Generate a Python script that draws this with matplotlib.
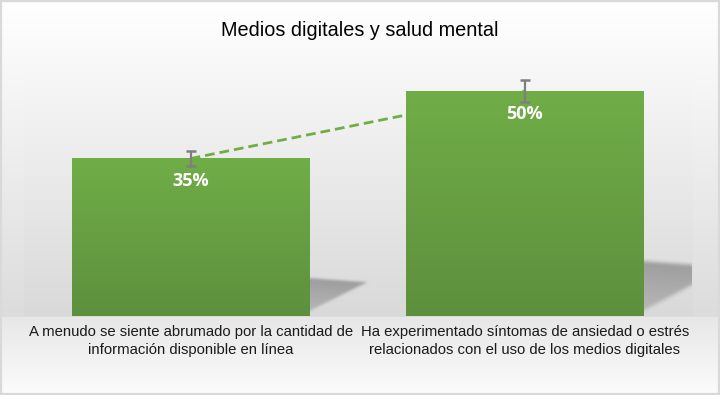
import numpy as np
import matplotlib.pyplot as plt
from matplotlib import font_manager
from matplotlib.patches import Rectangle
from matplotlib.path import Path

title = 'Medios digitales y salud mental'
categories = ['A menudo se siente abrumado por la cantidad de\ninformación disponible en línea',
              'Ha experimentado síntomas de ansiedad o estrés\nrelacionados con el uso de los medios digitales']
values = [35, 50]
value_labels = ['35%', '50%']
err_frac = 0.05  # error bars at 5% of value

W, H = 720, 395
fig = plt.figure(figsize=(W / 100, H / 100), dpi=100)

# chart area background (soft vertical gradient)
bg = fig.add_axes([0, 0, 1, 1], zorder=-10)
bg.axis('off')
yy = np.arange(H)
shade = np.interp(yy, [0, 46, 316, 317, 395], [255, 250, 220, 231, 252]) / 255
bg.imshow(np.dstack([np.repeat(shade[:, None], 2, axis=1)] * 3), aspect='auto', extent=[0, 1, 0, 1])
bg.add_patch(Rectangle((0.001, 0.002), 0.997, 0.995, transform=bg.transAxes,
                       fill=False, ec='#d9d9d9', lw=1.6))
bg.set_xlim(0, 1)
bg.set_ylim(0, 1)

# plot area
ax = fig.add_axes([23.5 / W, 79 / H, 668.5 / W, 270 / H])
ax.patch.set_visible(False)
pa = np.interp(np.arange(270), [0, 269], [250, 217]) / 255
ax.imshow(np.dstack([np.repeat(pa[:, None], 2, axis=1)] * 3), aspect='auto',
          extent=[0, 1, 0, 1], transform=ax.transAxes, zorder=0)

x = np.arange(len(values))
width = 0.71
bars = ax.bar(x, values, width=width, color='#68a344', zorder=3)

# green gradient on bars
top_c = np.array([112, 173, 71]) / 255
bot_c = np.array([93, 144, 61]) / 255
t = np.linspace(0, 1, 100)[:, None]
grad = top_c * (1 - t) + bot_c * t
for b in bars:
    x0, w, h = b.get_x(), b.get_width(), b.get_height()
    ax.imshow(grad[:, None, :].repeat(2, axis=1), aspect='auto',
              extent=[x0, x0 + w, 0, h], zorder=3.1)


def blur(a, n):
    k = np.ones(n) / n
    a = np.apply_along_axis(lambda r: np.convolve(r, k, mode='same'), 0, a)
    a = np.apply_along_axis(lambda r: np.convolve(r, k, mode='same'), 1, a)
    return a


# soft cast shadows right of the bars, scaled by bar height
for b in bars:
    xr, h = b.get_x() + b.get_width(), b.get_height()
    reach = 0.0049 * h
    poly = [(xr - 0.03, 0.245 * h), (xr + reach, 0.215 * h), (xr - 0.03, 0.0)]
    gx = np.linspace(xr - 0.04, xr + reach + 0.05, 130)
    gy = np.linspace(0, 0.33 * h, 110)
    X, Y = np.meshgrid(gx, gy)
    inside = Path(poly).contains_points(np.c_[X.ravel(), Y.ravel()]).reshape(X.shape)
    ytop = np.interp(X, [xr - 0.03, xr + reach], [0.245 * h, 0.215 * h])
    wgt = 1 - 0.5 * np.clip((ytop - Y) / (0.245 * h), 0, 1)
    a = blur(blur(inside * wgt, 7), 5) * 0.6
    rgba = np.zeros(X.shape + (4,))
    rgba[..., :3] = 0.45
    rgba[..., 3] = a
    ax.imshow(rgba, origin='lower', aspect='auto',
              extent=[gx[0], gx[-1], gy[0], gy[-1]], zorder=2)

# linear trendline
coef = np.polyfit(x, values, 1)
ax.plot(x, np.polyval(coef, x), color='#70ad47', lw=2, dashes=(3.5, 1.8), zorder=2.5)

# error bars
ax.errorbar(x, values, yerr=np.array(values) * err_frac, fmt='none', ecolor='#7f7f7f',
            elinewidth=1.6, capsize=3.6, capthick=1.8, zorder=5)

for xi, v, lbl in zip(x, values, value_labels):
    ax.annotate(lbl, (xi, v), xytext=(0, -16.5), textcoords='offset points', ha='center',
                va='center', color='white', fontsize=13, fontweight='bold',
                family=['Open Sans', 'DejaVu Sans'], zorder=6)

names = {f.name for f in font_manager.fontManager.ttflist}
if 'Liberation Sans Narrow' in names:
    tick_font, tick_size = 'Liberation Sans Narrow', 12
else:
    tick_font, tick_size = 'Liberation Sans', 10.7

ax.set_xlim(-0.5, 1.5)
ax.set_ylim(0, 60)
ax.set_xticks(x)
ax.set_xticklabels(categories, fontsize=tick_size, family=tick_font, color='#1a1a1a',
                   linespacing=1.38)
ax.tick_params(axis='x', length=0, pad=6.5)
ax.set_yticks([])
for s in ax.spines.values():
    s.set_visible(False)

fig.text(0.5, 1 - 30 / H, title, ha='center', va='center', fontsize=14.3,
         family='Liberation Sans', color='#000000')

fig.savefig('out.png', dpi=100)
